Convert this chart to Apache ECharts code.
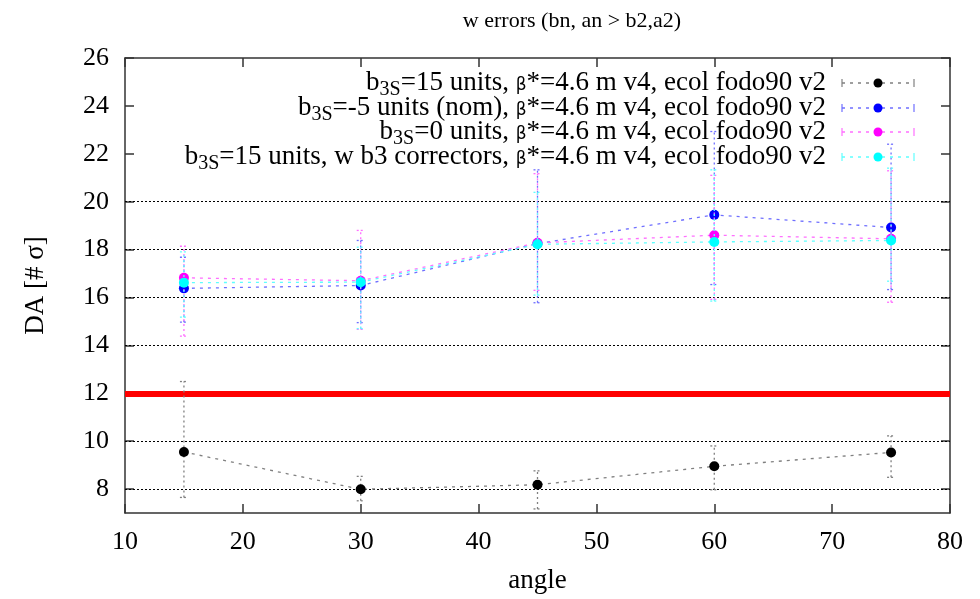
<!DOCTYPE html>
<html><head><meta charset="utf-8">
<script src="https://cdn.jsdelivr.net/npm/echarts@6/dist/echarts.min.js"></script>
<style>html,body{margin:0;padding:0;background:#fff}#c{width:980px;height:599px}</style>
</head><body><div id="c"></div>
<script>
const xVals = [15, 30, 45, 60, 75];
const yTicks = [8, 10, 12, 14, 16, 18, 20, 22, 24, 26];
const gridLines = [8, 10, 14, 16, 18, 20];
const threshold = 12;

const blackY  = [9.55, 7.99, 8.18, 8.95, 9.53];
const blackLo = [7.65, 7.51, 7.17, 7.97, 8.49];
const blackHi = [12.49, 8.53, 8.76, 9.80, 10.22];

const blueY  = [16.38, 16.50, 18.25, 19.45, 18.92];
const blueLo = [14.97, 14.95, 15.78, 16.54, 16.33];
const blueHi = [17.68, 18.38, 21.33, 22.93, 22.40];

const magY  = [16.82, 16.70, 18.28, 18.60, 18.45];
const magLo = [14.39, 14.67, 16.30, 15.92, 15.80];
const magHi = [18.14, 18.80, 21.17, 21.10, 21.29];

const cyanY  = [16.62, 16.64, 18.22, 18.32, 18.38];
const cyanLo = [15.18, 14.70, 16.10, 15.85, 16.68];
const cyanHi = [17.90, 18.10, 20.39, 21.33, 21.40];

const FONT = '"Liberation Serif", "DejaVu Serif", serif';

const defs = [
  {y: blackY, lo: blackLo, hi: blackHi, dot: '#000000', line: '#808080',
   label: '{m|b}{s|3S}{m|=15 units, }{g|β}{m|*=4.6 m v4, ecol fodo90 v2}'},
  {y: blueY, lo: blueLo, hi: blueHi, dot: '#0000ff', line: '#6f6fff',
   label: '{m|b}{s|3S}{m|=-5 units (nom), }{g|β}{m|*=4.6 m v4, ecol fodo90 v2}'},
  {y: magY, lo: magLo, hi: magHi, dot: '#ff00ff', line: '#ff6fff',
   label: '{m|b}{s|3S}{m|=0 units, }{g|β}{m|*=4.6 m v4, ecol fodo90 v2}'},
  {y: cyanY, lo: cyanLo, hi: cyanHi, dot: '#00ffff', line: '#5fffff',
   label: '{m|b}{s|3S}{m|=15 units, w b3 correctors, }{g|β}{m|*=4.6 m v4, ecol fodo90 v2}'}
];

const series = [];
series.push({
  type: 'line', data: [], silent: true, z: 3,
  markLine: {
    silent: true, symbol: 'none', label: {show: false},
    lineStyle: {color: '#000', type: [2, 2], width: 1},
    data: gridLines.map(v => ({yAxis: v}))
  }
});
series.push({
  type: 'line', data: [], silent: true, z: 4,
  markLine: {
    silent: true, symbol: 'none', label: {show: false},
    lineStyle: {color: '#ff0000', type: 'solid', width: 6},
    data: [{yAxis: threshold}]
  }
});

defs.forEach((d, k) => {
  series.push({
    type: 'custom', z: 5 + k * 2,
    data: xVals.map((x, i) => [x, d.lo[i], d.hi[i]]),
    renderItem: function (params, api) {
      const x = api.value(0);
      const p1 = api.coord([x, api.value(1)]);
      const p2 = api.coord([x, api.value(2)]);
      const st = {stroke: d.line, lineWidth: 1.3, lineDash: [2, 3]};
      const cst = {stroke: d.line, lineWidth: 1.3, lineDash: [2, 2]};
      return {type: 'group', children: [
        {type: 'line', shape: {x1: p1[0], y1: p1[1], x2: p2[0], y2: p2[1]}, style: st},
        {type: 'line', shape: {x1: p1[0] - 4, y1: p1[1], x2: p1[0] + 4, y2: p1[1]}, style: cst},
        {type: 'line', shape: {x1: p2[0] - 4, y1: p2[1], x2: p2[0] + 4, y2: p2[1]}, style: cst}
      ]};
    }
  });
  series.push({
    type: 'line', z: 6 + k * 2,
    data: xVals.map((x, i) => [x, d.y[i]]),
    symbol: 'circle', symbolSize: 10,
    itemStyle: {color: d.dot},
    lineStyle: {color: d.line, width: 1.3, type: [3, 5]}
  });
});

const legendGraphics = [];
const rowY = [83, 108, 132, 157];
defs.forEach((d, k) => {
  const y = rowY[k];
  legendGraphics.push({
    type: 'text', x: 826, y: y, z: 100,
    style: {
      text: d.label, align: 'right', verticalAlign: 'middle',
      fill: '#000',
      rich: {
        m: {fontFamily: FONT, fontSize: 27, fill: '#000', height: 28},
        s: {fontFamily: FONT, fontSize: 20, fill: '#000', padding: [14, 0, 0, 0], height: 20},
        g: {fontFamily: '"DejaVu Sans", sans-serif', fontSize: 17, fill: '#000', padding: [5, 0, 0, 0], height: 20}
      }
    }
  });
  const ls = {stroke: d.line, lineWidth: 1.3, lineDash: [3, 5]};
  legendGraphics.push({type: 'line', z: 100, shape: {x1: 842, y1: y, x2: 914, y2: y}, style: ls});
  legendGraphics.push({type: 'line', z: 100, shape: {x1: 842, y1: y - 4, x2: 842, y2: y + 4}, style: {stroke: d.line, lineWidth: 1.2}});
  legendGraphics.push({type: 'line', z: 100, shape: {x1: 914, y1: y - 4, x2: 914, y2: y + 4}, style: {stroke: d.line, lineWidth: 1.2}});
  legendGraphics.push({type: 'circle', z: 101, shape: {cx: 878, cy: y, r: 4.5}, style: {fill: d.dot}});
});

const axisLine = {show: true, lineStyle: {color: '#333', width: 1.5}};
const chart = echarts.init(document.getElementById('c'), null, {renderer: 'canvas'});
chart.setOption({
  backgroundColor: '#fff',
  animation: false,
  title: {
    text: 'w errors (bn, an > b2,a2)', left: 567, top: 5, textAlign: 'center',
    textStyle: {fontFamily: FONT, fontSize: 22, fontWeight: 'normal', color: '#000'}
  },
  grid: {left: 125, right: 30, top: 58, bottom: 85},
  xAxis: [
    {type: 'value', min: 10, max: 80, interval: 10, position: 'bottom',
     name: 'angle', nameLocation: 'middle', nameGap: 54,
     nameTextStyle: {fontFamily: FONT, fontSize: 27, color: '#000'},
     axisLine: axisLine,
     axisTick: {show: true, inside: true, length: 9, lineStyle: {color: '#333', width: 1.5}},
     axisLabel: {fontFamily: FONT, fontSize: 26, color: '#000', margin: 16},
     splitLine: {show: false}},
    {type: 'value', min: 10, max: 80, interval: 10, position: 'top',
     axisLine: axisLine,
     axisTick: {show: true, inside: true, length: 9, lineStyle: {color: '#333', width: 1.5}},
     axisLabel: {show: false}, splitLine: {show: false}}
  ],
  yAxis: [
    {type: 'value', min: 7, max: 26, interval: 1, position: 'left',
     name: 'DA [# σ]', nameLocation: 'middle', nameGap: 76, nameRotate: 90,
     nameTextStyle: {fontFamily: FONT, fontSize: 27, color: '#000'},
     axisLine: axisLine,
     axisTick: {show: true, inside: true, length: 9, customValues: yTicks, lineStyle: {color: '#333', width: 1.5}},
     axisLabel: {fontFamily: FONT, fontSize: 26, color: '#000', margin: 16, customValues: yTicks},
     splitLine: {show: false}},
    {type: 'value', min: 7, max: 26, interval: 1, position: 'right',
     axisLine: axisLine,
     axisTick: {show: true, inside: true, length: 9, customValues: yTicks, lineStyle: {color: '#333', width: 1.5}},
     axisLabel: {show: false}, splitLine: {show: false}}
  ],
  series: series,
  graphic: legendGraphics
});
</script></body></html>
